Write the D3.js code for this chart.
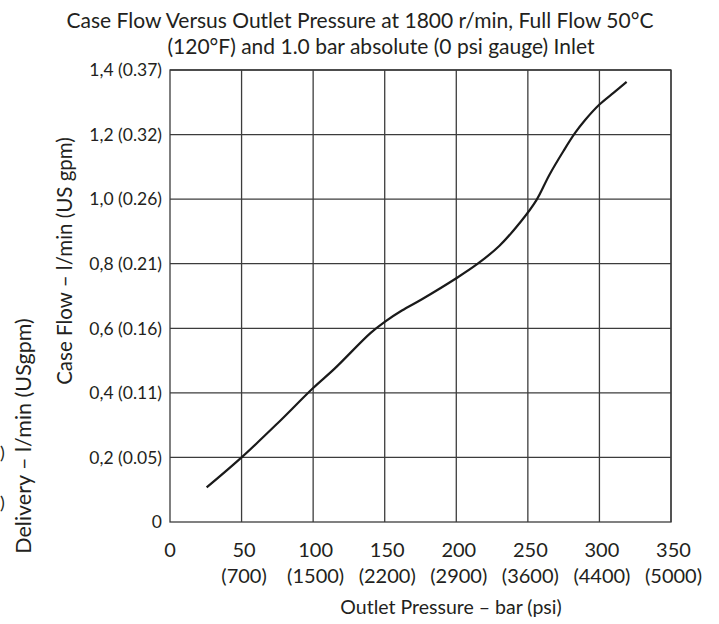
<!DOCTYPE html>
<html><head><meta charset="utf-8">
<script src="https://cdn.jsdelivr.net/npm/d3@7"></script>
<style>
html,body{margin:0;padding:0;background:#fff;}
svg{display:block;}
text{font-family:Lato,"Open Sans",sans-serif;fill:#231f20;}
</style></head>
<body>
<svg id="c" width="719" height="624"></svg>
<script>
// ---- data ----
const titleLines = ["Case Flow Versus Outlet Pressure at 1800 r/min, Full Flow 50°C",
                    "(120°F) and 1.0 bar absolute (0 psi gauge) Inlet"];
const xTicks = [0, 50, 100, 150, 200, 250, 300, 350];
const xPsiLabels = ["", "(700)", "(1500)", "(2200)", "(2900)", "(3600)", "(4400)", "(5000)"];
const yTicks = [0, 0.2, 0.4, 0.6, 0.8, 1.0, 1.2, 1.4];
const yTickLabels = ["0", "0,2 (0.05)", "0,4 (0.11)", "0,6 (0.16)", "0,8 (0.21)", "1,0 (0.26)", "1,2 (0.32)", "1,4 (0.37)"];
const xTitle = "Outlet Pressure – bar (psi)";
const yTitle = "Case Flow – l/min (US gpm)";
const yTitle2 = "Delivery – l/min (USgpm)";
const pressure = [25.6, 50, 75, 100, 115, 140, 150, 162, 176, 200, 215, 230, 245, 256, 265, 275, 283, 290, 300, 310, 319];
const caseFlow = [0.107, 0.20, 0.305, 0.415, 0.475, 0.585, 0.62, 0.655, 0.69, 0.755, 0.80, 0.855, 0.93, 0.997, 1.075, 1.15, 1.205, 1.245, 1.293, 1.33, 1.363];

// ---- layout ----
const svg = d3.select("#c");
const L = 170, R = 671, T = 70, B = 522;
const x = d3.scaleLinear().domain([0, 350]).range([L, R]);
const y = d3.scaleLinear().domain([0, 1.4]).range([B, T]);
const gridColor = "#3c3c3c";

// title
svg.append("text").attr("x", 360).attr("y", 28).attr("text-anchor", "middle")
  .style("font-size", "21px").text(titleLines[0]);
svg.append("text").attr("x", 381).attr("y", 54).attr("text-anchor", "middle")
  .style("font-size", "21px").text(titleLines[1]);

// grid
const g = svg.append("g");
g.selectAll(".vg").data(xTicks.slice(1)).join("line")
  .attr("x1", d => x(d)).attr("x2", d => x(d)).attr("y1", T).attr("y2", B)
  .attr("stroke", gridColor).attr("stroke-width", 1.3);
g.selectAll(".hg").data(yTicks.slice(1)).join("line")
  .attr("x1", L).attr("x2", R).attr("y1", d => y(d)).attr("y2", d => y(d))
  .attr("stroke", gridColor).attr("stroke-width", 1.3);
g.append("rect").attr("x", L).attr("y", T).attr("width", R - L).attr("height", B - T)
  .attr("fill", "none").attr("stroke", gridColor).attr("stroke-width", 1.3);

// x axis labels
const xa = svg.append("g");
xa.selectAll(".xl").data(xTicks).join("text")
  .attr("x", d => x(d) + (d ? 2.5 : 0)).attr("y", 557).attr("text-anchor", "middle")
  .style("font-size", "20px").text(d => d);
xa.selectAll(".xp").data(xTicks).join("text")
  .attr("x", d => x(d) + 2.5).attr("y", 583).attr("text-anchor", "middle")
  .style("font-size", "20px").text((d, i) => xPsiLabels[i]);
svg.append("text").attr("x", 451).attr("y", 614).attr("text-anchor", "middle")
  .style("font-size", "19.5px").text(xTitle);

// y axis labels
svg.selectAll(".yl").data(yTicks).join("text")
  .attr("x", 162).attr("y", d => y(d)).attr("dy", "0.36em").attr("text-anchor", "end")
  .style("font-size", "17.5px").text((d, i) => yTickLabels[i]);
svg.append("text").attr("transform", "translate(72,261) rotate(-90)").attr("text-anchor", "middle")
  .style("font-size", "20.5px").text(yTitle);
svg.append("text").attr("transform", "translate(31,436) rotate(-90)").attr("text-anchor", "middle")
  .style("font-size", "21.5px").text(yTitle2);
// fragments of an outer label at the left edge
svg.append("text").attr("x", 0).attr("y", 459).style("font-size", "18px").text(")");
svg.append("text").attr("x", 0).attr("y", 509).style("font-size", "18px").text(")");

// curve
const line = d3.line().x(d => x(d[0])).y(d => y(d[1])).curve(d3.curveCatmullRom.alpha(0.5));
svg.append("path").datum(pressure.map((p, i) => [p, caseFlow[i]]))
  .attr("d", line).attr("fill", "none").attr("stroke", "#1a1a1a").attr("stroke-width", 2.2);
</script>
</body></html>
